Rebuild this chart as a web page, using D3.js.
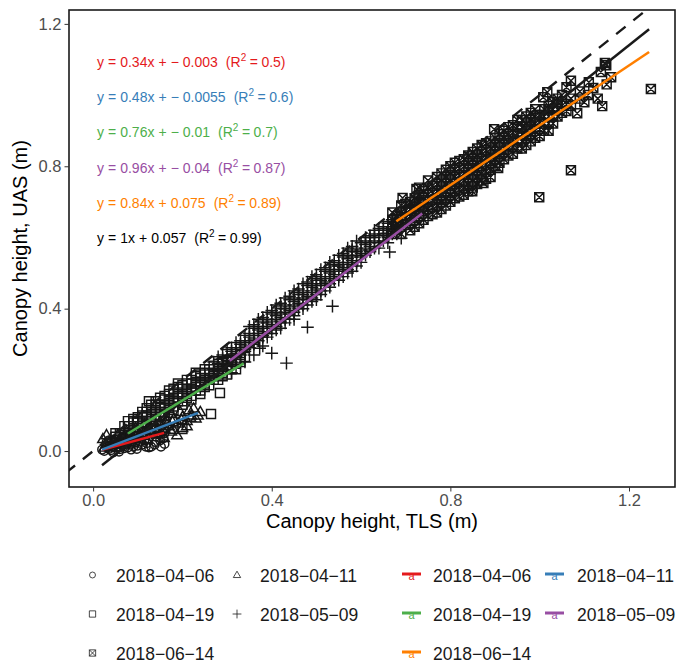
<!DOCTYPE html>
<html>
<head>
<meta charset="utf-8">
<script src="https://cdn.jsdelivr.net/npm/d3@7"></script>
<style>
  body { margin: 0; background: #fff; }
  svg { display: block; font-family: "Liberation Sans", Arial, sans-serif; }
</style>
</head>
<body>
<svg id="chart" width="676" height="664"></svg>
<script>
// point clouds, [TLS, UAS] in metres
const d0406 = [[0.02,0.004],[0.025,0.0],[0.03,0.012],[0.035,0.006],[0.04,0.016],[0.045,0.01],[0.05,0.02],[0.055,0.012],
  [0.06,0.024],[0.065,0.015],[0.07,0.026],[0.075,0.018],[0.08,0.03],[0.085,0.02],[0.09,0.034],[0.095,0.025],[0.1,0.036],
  [0.105,0.028],[0.11,0.04],[0.115,0.03],[0.12,0.044],[0.125,0.035],[0.13,0.012],[0.135,0.048],[0.14,0.04],[0.145,0.052],
  [0.15,0.045],[0.155,0.055],[0.16,0.05],[0.06,0.005],[0.09,0.012],[0.11,0.018],[0.03,0.025],[0.05,0.032],[0.08,0.045],
  [0.1,0.05],[0.14,0.025],[0.16,0.02],[0.125,0.01],[0.04,0.002],[0.07,0.008],[0.1,0.015],[0.12,0.022],[0.15,0.03],
  [0.035,0.03],[0.065,0.038],[0.095,0.042],[0.13,0.06],[0.16,0.064],[0.045,-0.004],[0.085,0.004],
  [0.028,0.017],[0.048,0.024],[0.068,0.03],[0.088,0.038],[0.108,0.046],[0.128,0.052],[0.148,0.058],[0.058,-0.002],
  [0.078,0.01],[0.098,0.006],[0.118,0.012],[0.138,0.018],[0.158,0.036],[0.152,0.012]];
const d0411 = [[0.022,0.034],[0.025,0.01],[0.03,0.02],[0.04,0.012],[0.045,0.03],[0.05,0.018],[0.06,0.034],[0.065,0.022],
  [0.07,0.04],[0.08,0.03],[0.085,0.048],[0.09,0.036],[0.1,0.055],[0.105,0.04],[0.11,0.06],[0.12,0.05],[0.125,0.066],
  [0.13,0.052],[0.14,0.072],[0.145,0.06],[0.15,0.078],[0.16,0.064],[0.165,0.084],[0.17,0.07],[0.18,0.09],[0.19,0.078],
  [0.2,0.096],[0.21,0.085],[0.22,0.1],[0.23,0.092],[0.24,0.11],[0.159,0.037],[0.188,0.045],[0.2,0.065],[0.175,0.055],
  [0.03,0.045],[0.215,0.115],[0.055,0.045],[0.075,0.055],[0.095,0.065],[0.115,0.075],[0.135,0.085],[0.155,0.095],
  [0.175,0.105],[0.195,0.11],[0.225,0.12],[0.06,0.012],[0.09,0.022],[0.12,0.032],[0.15,0.048],[0.18,0.06],[0.21,0.07],
  [0.035,0.026],[0.058,0.028],[0.078,0.042],[0.098,0.048],[0.118,0.058],[0.138,0.064],[0.158,0.076],[0.178,0.082],
  [0.198,0.088],[0.218,0.094],[0.235,0.1]];
const d0419 = [[0.05,0.03],[0.05,0.05],[0.05,0.04],[0.07,0.05],[0.07,0.07],[0.07,0.04],[0.078,0.084],[0.09,0.06],
  [0.09,0.08],[0.09,0.09],[0.09,0.05],[0.11,0.08],[0.11,0.1],[0.11,0.07],[0.11,0.11],[0.125,0.14],[0.13,0.09],[0.13,0.11],
  [0.13,0.13],[0.13,0.1],[0.15,0.11],[0.15,0.13],[0.15,0.15],[0.15,0.12],[0.15,0.1],[0.17,0.12],[0.17,0.14],[0.17,0.16],
  [0.17,0.13],[0.17,0.17],[0.19,0.14],[0.19,0.16],[0.19,0.18],[0.19,0.15],[0.19,0.19],[0.2,0.062],[0.21,0.15],[0.21,0.17],
  [0.21,0.19],[0.21,0.16],[0.21,0.2],[0.23,0.17],[0.23,0.19],[0.23,0.21],[0.23,0.18],[0.23,0.22],[0.25,0.18],[0.25,0.2],
  [0.25,0.22],[0.25,0.19],[0.25,0.23],[0.264,0.104],[0.27,0.2],[0.27,0.22],[0.27,0.24],[0.27,0.21],[0.284,0.163],
  [0.29,0.21],[0.29,0.23],[0.29,0.25],[0.29,0.22],[0.31,0.23],[0.31,0.25],[0.31,0.26],[0.33,0.25],[0.33,0.27],[0.33,0.26],
  [0.34,0.264],[0.1,0.085],[0.12,0.095],[0.14,0.115],[0.16,0.125],[0.18,0.145],[0.2,0.16],[0.22,0.175],[0.24,0.195],
  [0.26,0.205],[0.28,0.225],[0.3,0.24],[0.32,0.255],[0.08,0.06],[0.12,0.12],[0.14,0.14],[0.16,0.155],[0.18,0.175],
  [0.2,0.185],[0.22,0.2],[0.24,0.215],[0.26,0.23],[0.28,0.245],[0.3,0.255],
  [0.06,0.035],[0.06,0.05],[0.08,0.05],[0.08,0.07],[0.08,0.04],[0.1,0.065],[0.1,0.08],[0.1,0.095],[0.1,0.055],
  [0.12,0.08],[0.12,0.1],[0.12,0.11],[0.12,0.07],[0.14,0.095],[0.14,0.11],[0.14,0.13],[0.14,0.085],[0.16,0.11],
  [0.16,0.13],[0.16,0.145],[0.16,0.1],[0.18,0.125],[0.18,0.14],[0.18,0.16],[0.18,0.115],[0.2,0.14],[0.2,0.155],
  [0.2,0.175],[0.2,0.13],[0.22,0.155],[0.22,0.17],[0.22,0.19],[0.22,0.145],[0.24,0.17],[0.24,0.185],[0.24,0.205],
  [0.24,0.16],[0.26,0.185],[0.26,0.2],[0.26,0.215],[0.28,0.2],[0.28,0.215],[0.28,0.23],[0.3,0.215],[0.3,0.23],
  [0.32,0.23],[0.32,0.245]];
const d0509 = [[0.27,0.23],[0.27,0.25],[0.27,0.21],[0.29,0.25],[0.29,0.27],[0.29,0.23],[0.29,0.26],[0.31,0.27],[0.31,0.29],
  [0.31,0.25],[0.31,0.28],[0.33,0.29],[0.33,0.31],[0.33,0.27],[0.33,0.3],[0.34,0.25],[0.35,0.31],[0.35,0.33],[0.35,0.29],
  [0.35,0.32],[0.35,0.35],[0.37,0.33],[0.37,0.35],[0.37,0.31],[0.37,0.34],[0.37,0.37],[0.373,0.289],[0.39,0.35],[0.39,0.37],
  [0.39,0.33],[0.39,0.36],[0.39,0.39],[0.39,0.32],[0.4,0.275],[0.41,0.37],[0.41,0.39],[0.41,0.35],[0.41,0.38],[0.41,0.41],
  [0.41,0.34],[0.43,0.39],[0.43,0.41],[0.43,0.37],[0.43,0.4],[0.43,0.43],[0.43,0.36],[0.433,0.247],[0.45,0.41],[0.45,0.43],
  [0.45,0.39],[0.45,0.42],[0.45,0.45],[0.45,0.38],[0.47,0.43],[0.47,0.45],[0.47,0.41],[0.47,0.44],[0.47,0.47],[0.47,0.4],
  [0.48,0.348],[0.49,0.45],[0.49,0.47],[0.49,0.43],[0.49,0.46],[0.49,0.49],[0.49,0.42],[0.51,0.47],[0.51,0.49],[0.51,0.45],
  [0.51,0.48],[0.51,0.51],[0.51,0.44],[0.53,0.49],[0.53,0.51],[0.53,0.47],[0.53,0.5],[0.53,0.53],[0.53,0.46],[0.536,0.407],
  [0.55,0.51],[0.55,0.53],[0.55,0.49],[0.55,0.52],[0.55,0.55],[0.55,0.48],[0.57,0.53],[0.57,0.55],[0.57,0.51],[0.57,0.54],
  [0.57,0.57],[0.57,0.5],[0.59,0.55],[0.59,0.57],[0.59,0.53],[0.59,0.56],[0.59,0.59],[0.59,0.52],[0.61,0.57],[0.61,0.59],
  [0.61,0.55],[0.61,0.58],[0.61,0.6],[0.63,0.59],[0.63,0.61],[0.63,0.57],[0.63,0.6],[0.63,0.62],[0.65,0.61],[0.65,0.63],
  [0.65,0.59],[0.65,0.62],[0.657,0.612],[0.664,0.559],[0.67,0.63],[0.67,0.65],[0.67,0.61],[0.69,0.598],[0.69,0.65],
  [0.69,0.67],[0.69,0.63],[0.71,0.67],[0.71,0.69],[0.73,0.69],[0.73,0.71],[0.3,0.24],[0.34,0.28],[0.38,0.32],[0.38,0.36],
  [0.42,0.36],[0.42,0.4],[0.46,0.4],[0.46,0.44],[0.5,0.44],[0.5,0.48],[0.54,0.48],[0.54,0.52],[0.58,0.52],[0.58,0.56],
  [0.62,0.56],[0.62,0.6],[0.66,0.6],[0.66,0.64],[0.7,0.64],
  [0.28,0.245],[0.28,0.265],[0.28,0.225],[0.3,0.265],[0.3,0.285],[0.3,0.245],[0.3,0.255],[0.32,0.285],[0.32,0.305],
  [0.32,0.265],[0.32,0.275],[0.34,0.305],[0.34,0.325],[0.34,0.285],[0.34,0.295],[0.36,0.325],[0.36,0.345],[0.36,0.305],
  [0.36,0.315],[0.36,0.355],[0.38,0.345],[0.38,0.365],[0.38,0.325],[0.38,0.335],[0.38,0.375],[0.4,0.365],[0.4,0.385],
  [0.4,0.345],[0.4,0.355],[0.4,0.395],[0.42,0.385],[0.42,0.405],[0.42,0.365],[0.42,0.375],[0.42,0.415],[0.44,0.405],
  [0.44,0.425],[0.44,0.385],[0.44,0.395],[0.44,0.435],[0.46,0.425],[0.46,0.445],[0.46,0.405],[0.46,0.415],[0.46,0.455],
  [0.48,0.445],[0.48,0.465],[0.48,0.425],[0.48,0.435],[0.48,0.475],[0.5,0.465],[0.5,0.485],[0.5,0.445],[0.5,0.455],
  [0.5,0.495],[0.52,0.485],[0.52,0.505],[0.52,0.465],[0.52,0.475],[0.52,0.515],[0.54,0.505],[0.54,0.525],[0.54,0.485],
  [0.54,0.495],[0.54,0.535],[0.56,0.525],[0.56,0.545],[0.56,0.505],[0.56,0.515],[0.56,0.555],[0.58,0.545],[0.58,0.565],
  [0.58,0.525],[0.58,0.535],[0.58,0.575],[0.6,0.565],[0.6,0.585],[0.6,0.545],[0.6,0.555],[0.62,0.585],[0.62,0.605],
  [0.62,0.565],[0.62,0.575],[0.64,0.605],[0.64,0.625],[0.64,0.585],[0.66,0.625],[0.66,0.645],[0.66,0.605],[0.68,0.645],
  [0.68,0.665],[0.7,0.665],[0.7,0.685],[0.72,0.685],[0.72,0.7],[0.36,0.27],[0.38,0.295],[0.31,0.22],[0.45,0.37],
  [0.36,0.3],[0.4,0.33],[0.44,0.37],[0.48,0.41],[0.52,0.45],[0.56,0.49],[0.6,0.53],[0.64,0.57],[0.68,0.61],
  [0.42,0.345],[0.5,0.425],[0.58,0.505],[0.66,0.585]];
const d0614 = [[0.67,0.63],[0.67,0.65],[0.67,0.61],[0.67,0.67],[0.69,0.65],[0.69,0.67],[0.69,0.63],[0.69,0.69],[0.69,0.61],
  [0.71,0.66],[0.71,0.68],[0.71,0.64],[0.71,0.7],[0.71,0.62],[0.73,0.68],[0.73,0.7],[0.73,0.66],[0.73,0.72],[0.73,0.64],
  [0.73,0.74],[0.75,0.7],[0.75,0.72],[0.75,0.68],[0.75,0.74],[0.75,0.66],[0.75,0.76],[0.77,0.71],[0.77,0.73],[0.77,0.69],
  [0.77,0.75],[0.77,0.67],[0.77,0.77],[0.79,0.73],[0.79,0.75],[0.79,0.71],[0.79,0.77],[0.79,0.69],[0.79,0.79],[0.81,0.75],
  [0.81,0.77],[0.81,0.73],[0.81,0.79],[0.81,0.71],[0.81,0.81],[0.83,0.76],[0.83,0.78],[0.83,0.74],[0.83,0.8],[0.83,0.72],
  [0.83,0.82],[0.85,0.78],[0.85,0.8],[0.85,0.76],[0.85,0.82],[0.85,0.74],[0.85,0.84],[0.87,0.8],[0.87,0.82],[0.87,0.78],
  [0.87,0.84],[0.87,0.76],[0.87,0.86],[0.89,0.81],[0.89,0.83],[0.89,0.79],[0.89,0.85],[0.89,0.77],[0.89,0.87],[0.91,0.83],
  [0.91,0.85],[0.91,0.81],[0.91,0.87],[0.91,0.89],[0.93,0.85],[0.93,0.87],[0.93,0.83],[0.93,0.89],[0.93,0.91],[0.95,0.87],
  [0.95,0.89],[0.95,0.85],[0.95,0.91],[0.95,0.93],[0.97,0.88],[0.97,0.9],[0.97,0.86],[0.97,0.92],[0.97,0.94],[0.99,0.9],
  [0.99,0.92],[0.99,0.88],[0.99,0.94],[0.99,0.96],[1.01,0.92],[1.01,0.94],[1.01,0.9],[1.01,0.96],[1.03,0.94],[1.03,0.96],
  [1.03,0.92],[1.03,0.98],[1.05,0.95],[1.05,0.97],[1.05,1.0],[1.07,0.97],[1.07,0.99],[1.09,0.99],[1.09,1.01],
  [0.693,0.711],[0.724,0.736],[0.849,0.73],[0.898,0.904],[0.677,0.624],[0.874,0.753],[0.907,0.795],[1.017,1.008],
  [1.008,0.994],[1.249,1.017],[1.07,0.789],[0.999,0.713],[1.14,0.969],[1.084,0.949],[1.146,1.09],[1.137,1.065],
  [1.07,1.04],[1.06,1.022],[1.11,1.036],[1.108,1.0],[1.149,1.084],[1.12,1.02],[1.13,0.99],[1.15,1.03],[1.16,1.05],
  [1.1,0.98],[1.04,0.99],[1.02,0.97],
  [0.68,0.64],[0.68,0.66],[0.68,0.62],[0.7,0.655],[0.7,0.675],[0.7,0.635],[0.7,0.695],[0.72,0.67],[0.72,0.69],[0.72,0.65],
  [0.72,0.71],[0.72,0.63],[0.74,0.69],[0.74,0.71],[0.74,0.67],[0.74,0.73],[0.74,0.65],[0.76,0.705],[0.76,0.725],
  [0.76,0.685],[0.76,0.745],[0.76,0.665],[0.78,0.72],[0.78,0.74],[0.78,0.7],[0.78,0.76],[0.78,0.68],[0.78,0.78],
  [0.8,0.74],[0.8,0.76],[0.8,0.72],[0.8,0.78],[0.8,0.7],[0.8,0.8],[0.82,0.755],[0.82,0.775],[0.82,0.735],[0.82,0.795],
  [0.82,0.715],[0.82,0.815],[0.84,0.77],[0.84,0.79],[0.84,0.75],[0.84,0.81],[0.84,0.73],[0.84,0.83],[0.86,0.79],
  [0.86,0.81],[0.86,0.77],[0.86,0.83],[0.86,0.75],[0.86,0.85],[0.88,0.805],[0.88,0.825],[0.88,0.785],[0.88,0.845],
  [0.88,0.765],[0.88,0.865],[0.9,0.82],[0.9,0.84],[0.9,0.8],[0.9,0.86],[0.9,0.88],[0.92,0.84],[0.92,0.86],[0.92,0.82],
  [0.92,0.88],[0.92,0.9],[0.94,0.855],[0.94,0.875],[0.94,0.835],[0.94,0.895],[0.94,0.915],[0.96,0.87],[0.96,0.89],
  [0.96,0.85],[0.96,0.91],[0.96,0.93],[0.98,0.89],[0.98,0.91],[0.98,0.87],[0.98,0.93],[0.98,0.95],[1.0,0.905],[1.0,0.925],
  [1.0,0.885],[1.0,0.945],[1.02,0.92],[1.02,0.94],[1.02,0.9],[1.02,0.96],[1.04,0.94],[1.04,0.96],[1.04,0.98],[1.06,0.955],
  [1.06,0.975]];

const dates = ["2018-04-06","2018-04-11","2018-04-19","2018-05-09","2018-06-14"];
const shapes = ["circle","triangle","square","plus","squarecross"];
const colors = ["#E41A1C","#377EB8","#4DAF4A","#984EA3","#FF7F00"];

// fitted lines: slope, intercept, x-extent (as drawn)
const fitSlope = [0.34, 0.48, 0.76, 0.96, 0.84, 1.0];
const fitInt = [-0.003, -0.0055, -0.01, -0.04, 0.075, -0.06];
const fitFrom = [0.02, 0.02, 0.078, 0.306, 0.679, 0.02];
const fitTo = [0.159, 0.235, 0.337, 0.737, 1.245, 1.245];

const eqLhs = ["y = 0.34x + − 0.003","y = 0.48x + − 0.0055","y = 0.76x + − 0.01","y = 0.96x + − 0.04","y = 0.84x + 0.075","y = 1x + 0.057"];
const eqR2 = ["0.5","0.6","0.7","0.87","0.89","0.99"];
const eqColor = [...colors, "#000"];

const xTicks = [0.0, 0.4, 0.8, 1.2];
const yTicks = [0.0, 0.4, 0.8, 1.2];

const svg = d3.select("#chart");
const L = 69, R = 675, T = 10, B = 487;
const x = d3.scaleLinear().domain([-0.054, 1.303]).range([L, R]);
const y = d3.scaleLinear().domain([-0.101, 1.239]).range([B, T]);

svg.append("clipPath").attr("id", "clip")
  .append("rect").attr("x", L).attr("y", T).attr("width", R - L).attr("height", B - T);

function shapePath(kind, s){
  if(kind == "circle"){
    return d3.symbol(d3.symbolCircle, s*s*0.785)();
  }
  if(kind == "triangle"){
    const h = s*0.866;
    return `M0,${-h*0.6}L${s/2},${h*0.4}L${-s/2},${h*0.4}Z`;
  }
  if(kind == "square"){
    const a = s/2;
    return `M${-a},${-a}H${a}V${a}H${-a}Z`;
  }
  if(kind == "plus"){
    const a = s*0.6;
    return `M${-a},0H${a}M0,${-a}V${a}`;
  }
  const a = s/2;
  return `M${-a},${-a}H${a}V${a}H${-a}ZM${-a},${-a}L${a},${a}M${a},${-a}L${-a},${a}`;
}
const ptSize = [8.5, 10.5, 9, 10.5, 9];

const plot = svg.append("g").attr("clip-path", "url(#clip)");
[d0406, d0411, d0419, d0509, d0614].forEach(function(d, i){
  plot.append("g").selectAll("path")
    .data(d).enter().append("path")
      .attr("transform", p => `translate(${x(p[0])},${y(p[1])})`)
      .attr("d", shapePath(shapes[i], ptSize[i]))
      .attr("fill", "none")
      .attr("stroke", "#161616")
      .attr("stroke-width", 1.45);
});

// 1:1 line
plot.append("line")
  .attr("x1", x(-0.1)).attr("y1", y(-0.1))
  .attr("x2", x(1.35)).attr("y2", y(1.35))
  .attr("stroke", "#1a1a1a").attr("stroke-width", 2.4)
  .attr("stroke-dasharray", "12,10");

const lineGen = d3.line().x(d => x(d[0])).y(d => y(d[1]));
const order = [5, 0, 1, 2, 3, 4];
order.forEach(function(i){
  const pts = [fitFrom[i], fitTo[i]].map(v => [v, fitSlope[i]*v + fitInt[i]]);
  plot.append("path").datum(pts)
    .attr("d", lineGen)
    .attr("fill", "none")
    .attr("stroke", i == 5 ? "#1a1a1a" : colors[i])
    .attr("stroke-width", 2.5);
});

// panel border
svg.append("rect").attr("x", L).attr("y", T).attr("width", R - L).attr("height", B - T)
  .attr("fill", "none").attr("stroke", "#1a1a1a").attr("stroke-width", 1.6);

// axes
const xAxis = svg.append("g").attr("transform", `translate(0,${B})`)
  .call(d3.axisBottom(x).tickValues(xTicks).tickFormat(d3.format(".1f")).tickSize(4.5).tickPadding(3));
const yAxis = svg.append("g").attr("transform", `translate(${L},0)`)
  .call(d3.axisLeft(y).tickValues(yTicks).tickFormat(d3.format(".1f")).tickSize(4.5).tickPadding(3));
[xAxis, yAxis].forEach(function(a){
  a.select(".domain").remove();
  a.selectAll(".tick line").attr("stroke", "#333").attr("stroke-width", 1);
  a.selectAll(".tick text").attr("fill", "#4d4d4d").attr("font-size", 16.5)
    .attr("font-family", "Liberation Sans, Arial, sans-serif");
});

svg.append("text").attr("x", (L + R)/2).attr("y", 528).attr("text-anchor", "middle")
  .attr("font-size", 20).attr("fill", "#000").text("Canopy height, TLS (m)");
svg.append("text").attr("transform", `translate(27,${(T + B)/2}) rotate(-90)`).attr("text-anchor", "middle")
  .attr("font-size", 20).attr("fill", "#000").text("Canopy height, UAS (m)");

// regression labels
const eqBase = [66.5, 102, 137, 172.5, 207.5, 243];
eqLhs.forEach(function(s, i){
  const t = svg.append("text").attr("x", 97).attr("y", eqBase[i])
    .attr("font-size", 14).attr("fill", eqColor[i]);
  s.split(" ").forEach(function(tok, j){
    t.append("tspan").attr("dx", j == 0 ? 0 : 4).text(tok);
  });
  t.append("tspan").attr("dx", 8).text("(R");
  t.append("tspan").attr("dy", -6).attr("font-size", 10).text("2");
  t.append("tspan").attr("dy", 6).attr("dx", 3.5).text("=");
  t.append("tspan").attr("dx", 3.5).text(eqR2[i] + ")");
});

// legends
const legRows = [575, 614, 653];
const shapeLeg = svg.append("g");
dates.forEach(function(dt, i){
  const col = i % 2, row = Math.floor(i / 2);
  const sx = col == 0 ? 92.5 : 237;
  const tx = col == 0 ? 116 : 260;
  shapeLeg.append("path")
    .attr("transform", `translate(${sx},${legRows[row]})`)
    .attr("d", shapePath(shapes[i], ptSize[i]*0.7))
    .attr("fill", "none").attr("stroke", "#1a1a1a").attr("stroke-width", 0.8);
  shapeLeg.append("text").attr("x", tx).attr("y", legRows[row] + 6.5)
    .attr("font-size", 17.5).attr("fill", "#1a1a1a").text(dt.replace(/-/g, "\u2212"));
});

const colLeg = svg.append("g");
dates.forEach(function(dt, i){
  const col = i % 2, row = Math.floor(i / 2);
  const kx = col == 0 ? 402 : 545;
  const tx = col == 0 ? 433 : 577;
  const ky = legRows[row] - 1;
  colLeg.append("line").attr("x1", kx).attr("x2", kx + 19).attr("y1", ky).attr("y2", ky)
    .attr("stroke", colors[i]).attr("stroke-width", 3);
  colLeg.append("text").attr("x", kx + 9.5).attr("y", ky + 6).attr("text-anchor", "middle")
    .attr("font-size", 11).attr("fill", colors[i]).text("a");
  colLeg.append("text").attr("x", tx).attr("y", legRows[row] + 6.5)
    .attr("font-size", 17.5).attr("fill", "#1a1a1a").text(dt.replace(/-/g, "\u2212"));
});
</script>
</body>
</html>
